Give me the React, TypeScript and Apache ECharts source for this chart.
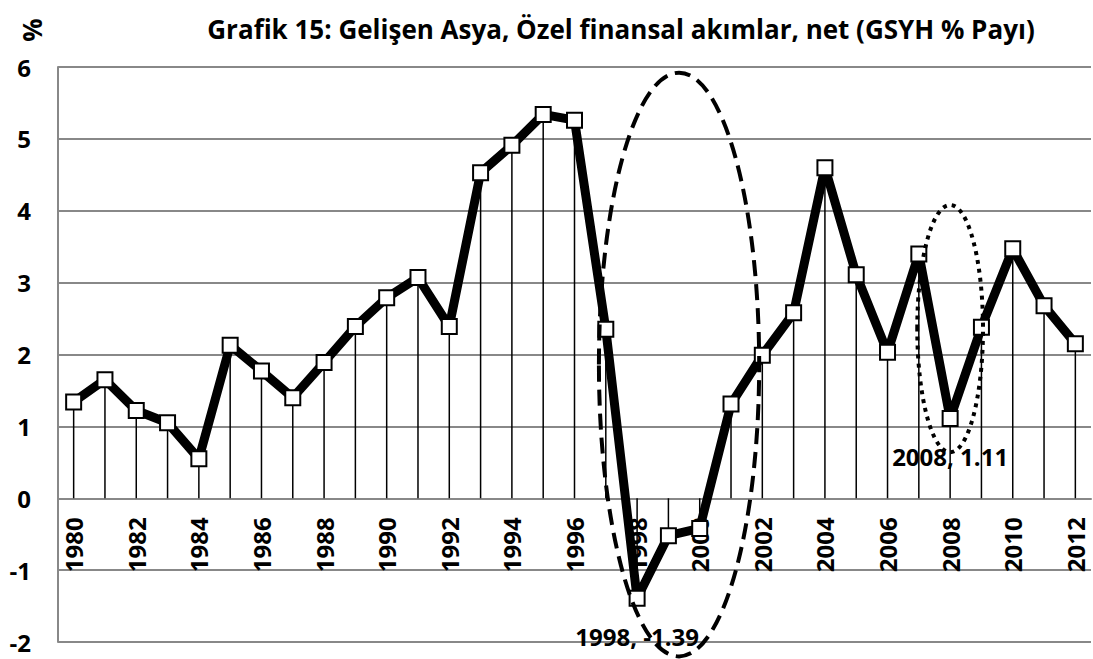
import React, { useEffect, useRef } from "react";
import * as echarts from "echarts";

const years = [
  "1980", "1981", "1982", "1983", "1984", "1985", "1986", "1987", "1988", "1989",
  "1990", "1991", "1992", "1993", "1994", "1995", "1996", "1997", "1998", "1999",
  "2000", "2001", "2002", "2003", "2004", "2005", "2006", "2007", "2008", "2009",
  "2010", "2011", "2012",
];
const values = [
  1.34, 1.65, 1.22, 1.05, 0.55, 2.13, 1.77, 1.4, 1.89, 2.39,
  2.79, 3.07, 2.39, 4.53, 4.91, 5.34, 5.26, 2.35, -1.39, -0.52,
  -0.42, 1.31, 1.99, 2.58, 4.6, 3.11, 2.03, 3.4, 1.11, 2.38,
  3.47, 2.68, 2.15,
];
const labelledYears = ["1998", "2008"];
const yTicks = { min: -2, max: 6, interval: 1 };
const title = "Grafik 15: Gelişen Asya, Özel finansal akımlar, net (GSYH % Payı)";
// ellipse annotations: centre (category index, value), radii (categories, values)
const ellipses = [
  { cx: 19.34, cy: 1.86, rx: 2.56, ry: 4.06, dash: [16, 8] },
  { cx: 28.0, cy: 2.36, rx: 1.05, ry: 1.72, dash: [4, 5] },
];

const FONT = "'Open Sans', sans-serif";
const GRID = { left: 58, right: 2, top: 67, bottom: 17 };
const H = 659;

export default function App() {
  const ref = useRef<HTMLDivElement>(null);
  useEffect(() => {
    const chart = echarts.init(ref.current!, null, { renderer: "svg" });
    const plotH = H - GRID.top - GRID.bottom;
    const zeroOffset = -plotH * (0 - yTicks.min) / (yTicks.max - yTicks.min);
    const option: any = {
      animation: false,
      backgroundColor: "#fff",
      textStyle: { fontFamily: FONT },
      grid: { ...GRID, outerBoundsMode: "none", containLabel: false },
      xAxis: {
        type: "category",
        data: years,
        boundaryGap: true,
        offset: zeroOffset,
        axisLine: { onZero: false, lineStyle: { color: "#888", width: 2 } },
        axisTick: { show: false },
        axisLabel: {
          interval: 1,
          rotate: 90,
          margin: 19,
          color: "#000",
          fontWeight: "bold",
          fontSize: 24,
          fontFamily: FONT,
        },
        splitLine: { show: false },
      },
      yAxis: {
        type: "value",
        min: yTicks.min,
        max: yTicks.max,
        interval: yTicks.interval,
        axisLine: { show: true, lineStyle: { color: "#888", width: 2 } },
        axisTick: { show: false },
        axisLabel: {
          color: "#000",
          fontWeight: "bold",
          fontSize: 24,
          margin: 27,
          fontFamily: FONT,
        },
        splitLine: { show: true, lineStyle: { color: "#888", width: 2 } },
      },
      series: [
        {
          type: "custom",
          z: 1,
          renderItem: (params: any, api: any) => {
            const p0 = api.coord([api.value(0), 0]);
            const p1 = api.coord([api.value(0), api.value(1)]);
            return {
              type: "line",
              shape: { x1: p0[0], y1: p0[1], x2: p1[0], y2: p1[1] },
              style: { stroke: "#000", lineWidth: 1.5 },
            };
          },
          encode: { x: 0, y: 1 },
          data: values.map((v, i) => [i, v]),
        },
        {
          type: "line",
          z: 3,
          data: values.map((v, i) =>
            labelledYears.includes(years[i])
              ? {
                  value: v,
                  label: {
                    show: true,
                    position: "bottom",
                    distance: 18,
                    formatter: "{b}, {c}",
                    color: "#000",
                    fontWeight: "bold",
                    fontSize: 24,
                    fontFamily: FONT,
                  },
                }
              : v
          ),
          symbol: "rect",
          symbolSize: 15,
          showAllSymbol: true,
          itemStyle: { color: "#fff", borderColor: "#000", borderWidth: 2 },
          lineStyle: { color: "#000", width: 9 },
          emphasis: { disabled: true },
        },
      ],
    };
    chart.setOption(option);

    const px = (ci: number, v: number) => {
      const i0 = Math.floor(ci);
      const a = chart.convertToPixel({ gridIndex: 0 }, [i0, v]) as number[];
      const b = chart.convertToPixel({ gridIndex: 0 }, [i0 + 1, v]) as number[];
      const f = ci - i0;
      return [a[0] + (b[0] - a[0]) * f, a[1]];
    };
    const graphics: any[] = ellipses.map((e) => {
      const c = px(e.cx, e.cy);
      const xr = px(e.cx + e.rx, e.cy);
      const yt = px(e.cx, e.cy + e.ry);
      return {
        type: "ellipse",
        z: 100,
        shape: { cx: c[0], cy: c[1], rx: xr[0] - c[0], ry: c[1] - yt[1] },
        style: { fill: "none", stroke: "#000", lineWidth: 4, lineDash: e.dash },
        silent: true,
      };
    });
    graphics.push(
      {
        type: "text",
        x: 621,
        y: 29,
        z: 100,
        style: {
          text: title,
          fill: "#000",
          font: `bold 26px ${FONT}`,
          align: "center",
          verticalAlign: "middle",
        },
      },
      {
        type: "text",
        x: 32,
        y: 30,
        rotation: Math.PI / 2,
        z: 100,
        style: {
          text: "%",
          fill: "#000",
          font: `bold 26px ${FONT}`,
          align: "center",
          verticalAlign: "middle",
        },
      }
    );
    chart.setOption({ graphic: graphics });

    return () => chart.dispose();
  }, []);
  return (
    <div
      ref={ref}
      style={{ position: "fixed", left: 0, top: 0, width: 1093, height: H }}
    />
  );
}
